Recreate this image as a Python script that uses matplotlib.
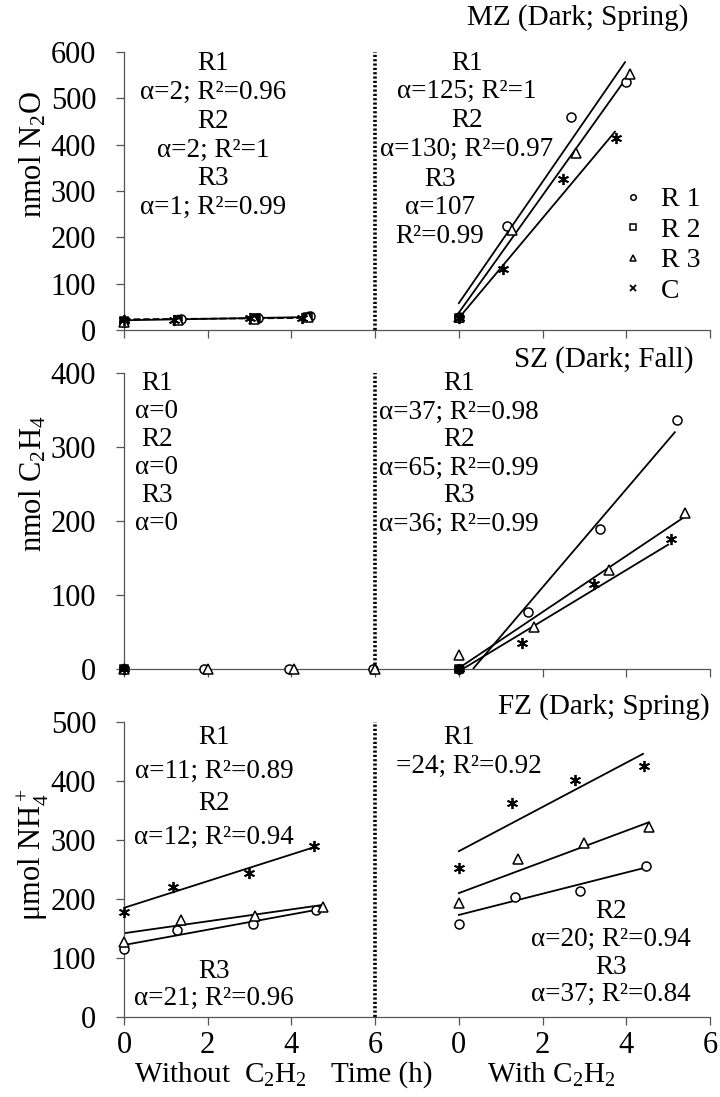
import matplotlib
matplotlib.use('Agg')
import matplotlib.pyplot as plt
import numpy as np
from matplotlib.lines import Line2D

plt.rcParams['font.family'] = ['Liberation Serif', 'DejaVu Serif']
plt.rcParams['mathtext.fontset'] = 'custom'
plt.rcParams['mathtext.rm'] = 'Liberation Serif'
plt.rcParams['mathtext.default'] = 'regular'

# "with C2H2" hours are drawn shifted right by this many hours on the shared axis
shift = 8

# ---- MZ (Dark; Spring): nmol N2O ----
mz_wo_r1_x = [0, 1.35, 3.2, 4.45];  mz_wo_r1_y = [18, 24, 26, 30]
mz_wo_r2_x = [0, 1.3, 3.15, 4.4];   mz_wo_r2_y = [20, 22, 25, 27]
mz_wo_r3_x = [0, 1.3, 3.1, 4.4];    mz_wo_r3_y = [18, 22, 24, 28]
mz_wo_c_x = [0, 1.2, 3.0, 4.25];    mz_wo_c_y = [22, 22, 25, 25]
mz_w_r1_x = [0, 1.16, 2.67, 3.99];  mz_w_r1_y = [28, 225, 460, 536]
mz_w_r2_x = [0];                    mz_w_r2_y = [26]
mz_w_r3_x = [0, 1.28, 2.8, 4.1];    mz_w_r3_y = [28, 216, 382, 553]
mz_w_c_x = [0, 1.06, 2.48, 3.75];   mz_w_c_y = [26, 132, 326, 415]
# trend lines: x0, x1, y0, y1
mz_wo_lines = [(0, 4.45, 21, 28, '-'), (0, 4.25, 23, 26, '--')]
mz_w_lines = [(0, 3.97, 58, 578, '-'), (0.02, 4.05, 40, 550, '-'), (0.02, 3.73, 28, 428, '-')]

# ---- SZ (Dark; Fall): nmol C2H4 ----
sz_wo_r1_x = [0, 1.9, 3.95, 5.95];  sz_wo_r1_y = [0, 0, 0, 0]
sz_wo_r2_x = [0];                   sz_wo_r2_y = [0]
sz_wo_r3_x = [0, 2.0, 4.05, 6.0];   sz_wo_r3_y = [0, 0, 0, 0]
sz_wo_c_x = [0];                    sz_wo_c_y = [0]
sz_w_r1_x = [0, 1.64, 3.37, 5.22];  sz_w_r1_y = [0, 77, 189, 336]
sz_w_r2_x = [0];                    sz_w_r2_y = [0]
sz_w_r3_x = [0, 1.8, 3.58, 5.41];   sz_w_r3_y = [19, 57, 134, 211]
sz_w_c_x = [0, 1.5, 3.22, 5.07];    sz_w_c_y = [0, 35, 115, 176]
sz_wo_lines = []
sz_w_lines = [(0.35, 5.16, 1, 320, '-'), (0.1, 5.35, 5, 204, '-'), (0.15, 5.0, 2, 168, '-')]

# ---- FZ (Dark; Spring): umol NH4+ ----
fz_wo_r1_x = [0, 1.27, 3.07, 4.58]; fz_wo_r1_y = [115, 147, 158, 181]
fz_wo_r2_x = [];                    fz_wo_r2_y = []
fz_wo_r3_x = [0, 1.37, 3.14, 4.75]; fz_wo_r3_y = [127, 164, 171, 186]
fz_wo_c_x = [0, 1.18, 2.98, 4.55];  fz_wo_c_y = [178, 220, 244, 290]
fz_w_r1_x = [0, 1.33, 2.89, 4.47];  fz_w_r1_y = [158, 203, 214, 256]
fz_w_r2_x = [];                     fz_w_r2_y = []
fz_w_r3_x = [0, 1.42, 2.98, 4.54];  fz_w_r3_y = [193, 268, 295, 322]
fz_w_c_x = [0, 1.28, 2.77, 4.42];   fz_w_c_y = [252, 363, 402, 425]
fz_wo_lines = [(0, 4.55, 122, 181, '-'), (0, 4.75, 142, 190, '-'), (0, 4.55, 185, 288, '-')]
fz_w_lines = [(0, 4.4, 281, 446, '-'), (0, 4.54, 210, 330, '-'), (0, 4.45, 173, 253, '-')]

tick_pos = [0, 2, 4, 6, 8, 10, 12, 14]
tick_lab = ['0', '2', '4', '6', '0', '2', '4', '6']

marker_style = {
    'R1': dict(marker='o', ms=6.5, mfc='white', mec='black', mew=1.1),
    'R2': dict(marker='s', ms=6, mfc='black', mec='black', mew=1.1),
    'R3': dict(marker='^', ms=6.5, mfc='white', mec='black', mew=1.1),
    'C': dict(marker=(6, 2, 0), ms=8, mec='black', mew=1.3),
}

W, H = 720, 1097
fig = plt.figure(figsize=(W / 100, H / 100), dpi=100)


def px(x, y):
    return x / W, 1 - y / H


def add_axes(top, bottom):
    return fig.add_axes([124 / W, 1 - bottom / H, 586 / W, (bottom - top) / H])


ax_mz = add_axes(52, 330)
ax_sz = add_axes(373, 669)
ax_fz = add_axes(722, 1017)

panels = [
    (ax_mz, 600, 'nmol N$_2$O', 0.63,
     [(mz_wo_r1_x, mz_wo_r1_y, mz_w_r1_x, mz_w_r1_y, 'R1'),
      (mz_wo_r2_x, mz_wo_r2_y, mz_w_r2_x, mz_w_r2_y, 'R2'),
      (mz_wo_r3_x, mz_wo_r3_y, mz_w_r3_x, mz_w_r3_y, 'R3'),
      (mz_wo_c_x, mz_wo_c_y, mz_w_c_x, mz_w_c_y, 'C')],
     mz_wo_lines, mz_w_lines),
    (ax_sz, 400, 'nmol C$_2$H$_4$', 0.625,
     [(sz_wo_r1_x, sz_wo_r1_y, sz_w_r1_x, sz_w_r1_y, 'R1'),
      (sz_wo_r2_x, sz_wo_r2_y, sz_w_r2_x, sz_w_r2_y, 'R2'),
      (sz_wo_r3_x, sz_wo_r3_y, sz_w_r3_x, sz_w_r3_y, 'R3'),
      (sz_wo_c_x, sz_wo_c_y, sz_w_c_x, sz_w_c_y, 'C')],
     sz_wo_lines, sz_w_lines),
    (ax_fz, 500, 'μmol NH$_4^+$', 0.55,
     [(fz_wo_r1_x, fz_wo_r1_y, fz_w_r1_x, fz_w_r1_y, 'R1'),
      (fz_wo_r2_x, fz_wo_r2_y, fz_w_r2_x, fz_w_r2_y, 'R2'),
      (fz_wo_r3_x, fz_wo_r3_y, fz_w_r3_x, fz_w_r3_y, 'R3'),
      (fz_wo_c_x, fz_wo_c_y, fz_w_c_x, fz_w_c_y, 'C')],
     fz_wo_lines, fz_w_lines),
]

for ax, ymax, ylab, ylab_y, series, wo_lines, w_lines in panels:
    ax.set_xlim(0, 14)
    ax.set_ylim(0, ymax)
    ax.set_yticks(np.arange(0, ymax + 1, 100))
    ax.set_xticks(tick_pos)
    ax.set_xticklabels(tick_lab)
    for s in ['top', 'right']:
        ax.spines[s].set_visible(False)
    for s in ['left', 'bottom']:
        ax.spines[s].set_color('#555555')
        ax.spines[s].set_linewidth(0.9)
    ax.tick_params(direction='out', length=6, width=0.9, color='#555555',
                   labelsize=22)
    ax.tick_params(axis='y', pad=14)
    ax.tick_params(axis='x', pad=4)
    ax.set_ylabel(ylab, fontsize=22)
    ax.yaxis.set_label_coords(-0.155, ylab_y)
    ax.yaxis.label.set_va('center')
    ax.axvline(6, color='black', ls=(0, (0.6, 0.6)), lw=2.6)

    for x0, x1, y0, y1, ls in wo_lines:
        ax.plot([x0, x1], [y0, y1], color='black', lw=1.3, ls=ls)
    for x0, x1, y0, y1, ls in w_lines:
        ax.plot(np.array([x0, x1]) + shift, [y0, y1], color='black', lw=1.3, ls=ls)

    for wx, wy, cx, cy, key in series:
        st = marker_style[key]
        ax.plot(wx, wy, ls='none', clip_on=False, zorder=3, **st)
        ax.plot(np.array(cx) + shift, cy, ls='none', clip_on=False, zorder=3, **st)

ax_mz.tick_params(labelbottom=False)
ax_sz.tick_params(labelbottom=False)

# legend in the top panel
handles = [Line2D([], [], ls='none', marker='o', ms=4, mfc='white', mec='black', mew=1.1),
           Line2D([], [], ls='none', marker='s', ms=4.5, mfc='white', mec='black', mew=1.1),
           Line2D([], [], ls='none', marker='^', ms=4.5, mfc='white', mec='black', mew=1.1),
           Line2D([], [], ls='none', marker='x', ms=5, mec='black', mew=1.3)]
ax_mz.legend(handles, ['R 1', 'R 2', 'R 3', 'C'], loc='upper left',
             bbox_to_anchor=px(622, 187), bbox_transform=fig.transFigure,
             frameon=False, fontsize=20, handlelength=0.8, handletextpad=0.6,
             labelspacing=0.18, borderpad=0, borderaxespad=0)

# panel titles
fig.text(*px(688, 18), 'MZ (Dark; Spring)', fontsize=21, ha='right', va='center')
fig.text(*px(693, 360), 'SZ (Dark; Fall)', fontsize=21, ha='right', va='center')
fig.text(*px(710, 707), 'FZ (Dark; Spring)', fontsize=21, ha='right', va='center')


def block(x, y0, lines, dy=28.7):
    for i, t in enumerate(lines):
        fig.text(*px(x, y0 + i * dy), t, fontsize=19.5, ha='center', va='center')


block(213, 64, ['R1', 'α=2; R²=0.96', 'R2', 'α=2; R²=1', 'R3', 'α=1; R²=0.99'])
block(467, 63, ['R1', 'α=125; R²=1', 'R2', 'α=130; R²=0.97'])
block(440, 179, ['R3', 'α=107', 'R²=0.99'])

block(157, 384, ['R1', 'α=0', 'R2', 'α=0', 'R3', 'α=0'], dy=28)
block(459, 384, ['R1', 'α=37; R²=0.98', 'R2', 'α=65; R²=0.99', 'R3', 'α=36; R²=0.99'], dy=28)

block(214, 738, ['R1', 'α=11; R²=0.89', 'R2', 'α=12; R²=0.94'], dy=33)
block(214, 971, ['R3', 'α=21; R²=0.96'], dy=27)
block(459, 738, ['R1'])
block(469, 766, ['=24; R²=0.92'])
block(611, 912, ['R2', 'α=20; R²=0.94', 'R3', 'α=37; R²=0.84'], dy=27.5)

# x-axis captions
fig.text(*px(220, 1075), 'Without  C$_2$H$_2$', fontsize=21, ha='center', va='center')
fig.text(*px(382, 1075), 'Time (h)', fontsize=21, ha='center', va='center')
fig.text(*px(551, 1075), 'With C$_2$H$_2$', fontsize=21, ha='center', va='center')

fig.savefig('out.png', dpi=100)
